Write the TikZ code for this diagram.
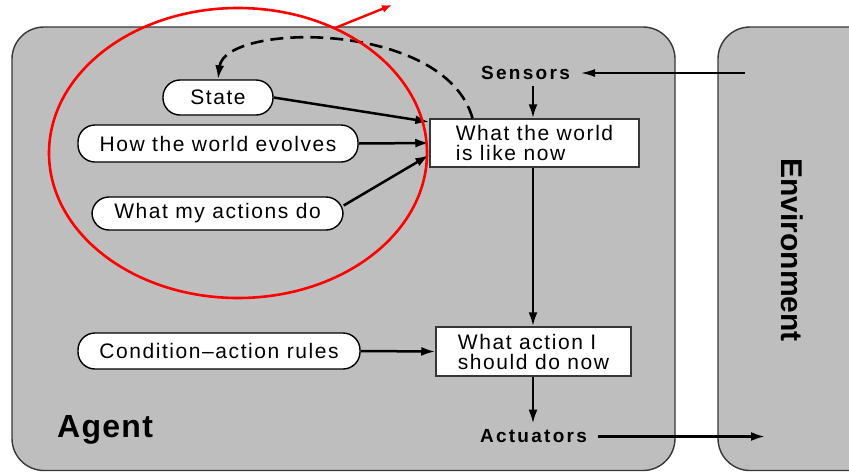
\documentclass[tikz,border=0pt]{standalone}
\usepackage{fontspec}
\setmainfont{Liberation Sans}
\newfontfamily\lblfont{Liberation Sans}[LetterSpace=7.5]
\newfontfamily\bldfont{Liberation Sans}[LetterSpace=12]
\newfontfamily\agentfont{Liberation Sans}[LetterSpace=4]
\usetikzlibrary{arrows.meta,shapes.geometric}
\definecolor{boxgray}{RGB}{190,190,190}
\definecolor{edgegray}{RGB}{55,55,55}
\begin{document}
\begin{tikzpicture}[x=1pt,y=-1pt,
  panel/.style={draw=edgegray,line width=1.4pt,fill=boxgray,rounded corners=32pt},
  pill/.style={draw=black,line width=1.4pt,fill=white,rounded corners=17pt,inner sep=0pt,font=\lblfont\fontsize{21}{20}\selectfont},
  infobox/.style={draw=edgegray,line width=1.5pt,fill=white,inner sep=0pt,align=left,font=\lblfont\fontsize{21}{20}\selectfont},
  io/.style={font=\bldfont\bfseries\fontsize{19}{19}\selectfont,inner xsep=11pt,inner ysep=6pt},
  arr/.style={line width=2.5pt,-{Latex[length=14pt,width=9pt]}},
  thinarr/.style={line width=1.6pt,-{Latex[length=14pt,width=8pt]}},
]
\path[use as bounding box] (0,0) rectangle (849,472);
\clip (0,0) rectangle (849,472);

% panels
\draw[panel] (12,27) rectangle (675,470.5);
\draw[panel] (718,27) rectangle (900,470.5);

% labels
\node[anchor=base west,inner sep=0pt,font=\agentfont\bfseries\fontsize{32}{32}\selectfont] (agentlabel) at (57,437) {Agent};
\node[rotate=-90,inner sep=0pt,font=\bfseries\fontsize{30}{30}\selectfont] (envlabel) at (792,250) {Environment};

% nodes
\node[pill,minimum width=110pt,minimum height=35pt] (state) at (218,97.5) {State};
\node[pill,minimum width=280pt,minimum height=37pt] (evolve) at (218,143.5) {How the world evolves};
\node[pill,minimum width=251pt,minimum height=33pt] (actions) at (217.5,213.5) {What my actions do};
\node[pill,minimum width=282pt,minimum height=36pt] (rules) at (219,351) {Condition–action rules};

\node[infobox,minimum width=209pt,minimum height=48pt] (world) at (534.5,143) {What the world\\is like now};
\node[infobox,minimum width=195pt,minimum height=49pt] (action) at (533.5,351.5) {What action I\\should do now};

\node[io] (sensors) at (525.5,73) {Sensors};
\node[io] (actuators) at (533.5,436.5) {Actuators};

\coordinate (vx) at (533,0);
\coordinate (envin) at (745,73);
\coordinate (envout) at (765,0);

% connectors
\draw[thinarr] (envin) -- (sensors.east);
\draw[arr] (sensors.south -| vx) -- (world.north -| vx);
\draw[arr] (world.south -| vx) -- (action.north -| vx);
\draw[arr] (action.south -| vx) -- (actuators.north -| vx);
\draw[arr] (actuators.east) -- (actuators.east -| envout);

\draw[arr] (state.east) -- ([yshift=21pt]world.west);
\draw[arr] (evolve.east) -- (world.west);
\draw[arr] ([yshift=8pt]actions.east) -- ([yshift=-12pt]world.west);
\draw[arr] (rules.east) -- (action.west);

\draw[line width=2.6pt,dash pattern=on 13pt off 7pt,-{Latex[length=14pt,width=9pt]}]
  ([xshift=-62pt]world.north) .. controls (445,20) and (225,22) .. (state.north);

% red highlight
\node[draw=red,line width=2.6pt,ellipse,minimum width=378pt,minimum height=290pt,inner sep=0pt] (focus) at (238,153) {};
\coordinate (redtip) at (392,5);
\draw[red,line width=2.4pt,-{Latex[length=10pt,width=8pt]}] (focus.52) -- (redtip);
\end{tikzpicture}
\end{document}
